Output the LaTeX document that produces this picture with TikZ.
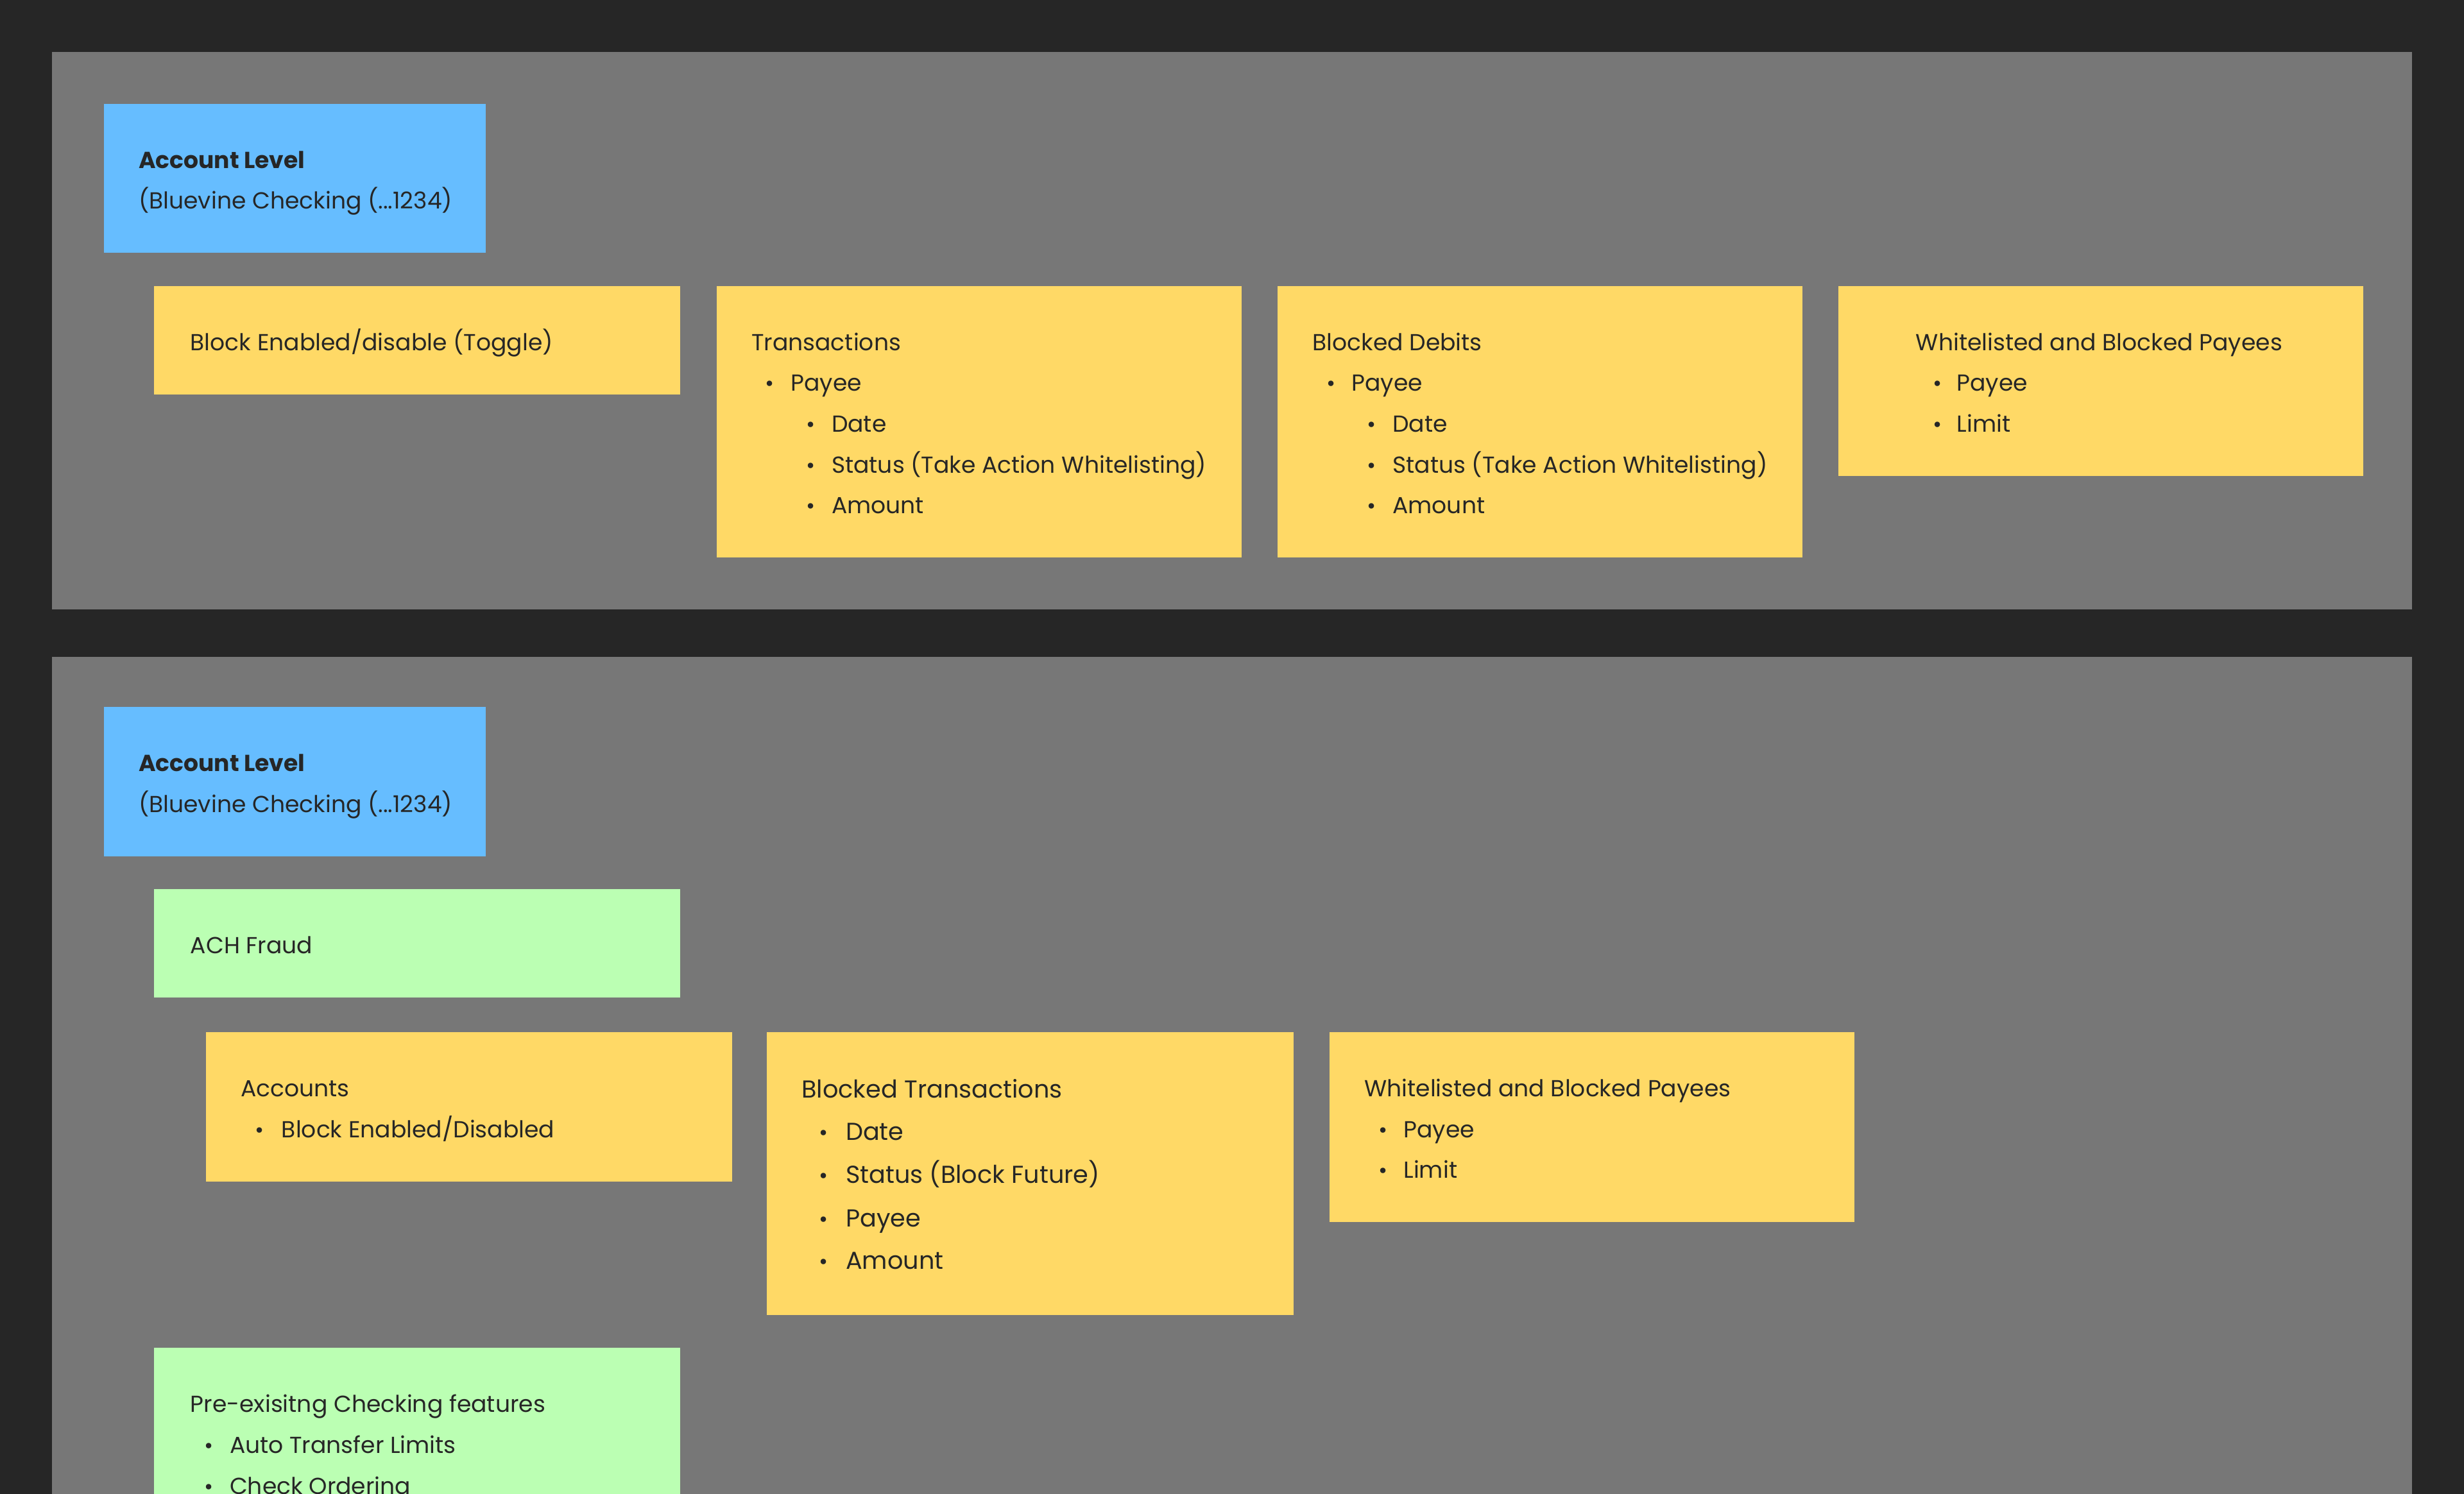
\documentclass[tikz,border=0pt]{standalone}
\usepackage{fontspec}
\setmainfont{Poppins}
\definecolor{bgc}{HTML}{262626}
\definecolor{panelc}{HTML}{777777}
\definecolor{bluec}{HTML}{66BDFF}
\definecolor{yelc}{HTML}{FFD966}
\definecolor{grnc}{HTML}{BBFFB3}
\tikzset{
 tx/.style={anchor=base west,inner sep=0pt,font=\fontsize{14.75}{18}\selectfont,text=black!85},
 txb/.style={tx,font=\fontsize{14.75}{18}\selectfont\bfseries},
 txl/.style={tx,font=\fontsize{15.6}{20}\selectfont},
 bul/.style={anchor=base,inner sep=0pt,font=\fontsize{14}{16}\selectfont,text=black!85},
}
\begin{document}
\begin{tikzpicture}[x=1pt,y=-1pt]
\useasboundingbox (0,0) rectangle (1568,951);
\clip (0,0) rectangle (1568,951);
\fill[bgc] (0,0) rectangle (1568,951);
\fill[panelc] (33,33) rectangle (1535,388);
\fill[panelc] (33,418) rectangle (1535,960);
% boxes
\fill[bluec] (66,66) rectangle (309,161);
\fill[bluec] (66,450) rectangle (309,545);
\fill[yelc] (98,182) rectangle (433,251);
\fill[yelc] (456,182) rectangle (790,355);
\fill[yelc] (813,182) rectangle (1147,355);
\fill[yelc] (1170,182) rectangle (1504,303);
\fill[grnc] (98,566) rectangle (433,635);
\fill[grnc] (98,858) rectangle (433,960);
\fill[yelc] (131,657) rectangle (466,752);
\fill[yelc] (488,657) rectangle (823,837);
\fill[yelc] (846,657) rectangle (1180,778);
% texts panel 1
\node[txb] (a1) at (88,107) {Account Level};
\node[tx] (a2) at (88,133) {(Bluevine Checking (...1234)};
\node[tx] (b1) at (121,223) {Block Enabled/disable (Toggle)};
\node[tx] (t1) at (478,223) {Transactions};
\node[bul] (t2b) at (490,249) {•}; \node[tx] (t2) at (503,249) {Payee};
\node[bul] (t3b) at (516,275) {•}; \node[tx] (t3) at (529,275) {Date};
\node[bul] (t4b) at (516,301) {•}; \node[tx] (t4) at (529,301) {Status (Take Action Whitelisting)};
\node[bul] (t5b) at (516,327) {•}; \node[tx] (t5) at (529,327) {Amount};
\node[tx] (d1) at (835,223) {Blocked Debits};
\node[bul] (d2b) at (847,249) {•}; \node[tx] (d2) at (860,249) {Payee};
\node[bul] (d3b) at (873,275) {•}; \node[tx] (d3) at (886,275) {Date};
\node[bul] (d4b) at (873,301) {•}; \node[tx] (d4) at (886,301) {Status (Take Action Whitelisting)};
\node[bul] (d5b) at (873,327) {•}; \node[tx] (d5) at (886,327) {Amount};
\node[tx] (w1) at (1219,223) {Whitelisted and Blocked Payees};
\node[bul] (w2b) at (1233,249) {•}; \node[tx] (w2) at (1245,249) {Payee};
\node[bul] (w3b) at (1233,275) {•}; \node[tx] (w3) at (1245,275) {Limit};
% panel 2
\node[txb] (c1) at (88,491) {Account Level};
\node[tx] (c2) at (88,517) {(Bluevine Checking (...1234)};
\node[tx] (f1) at (121,607) {ACH Fraud};
\node[tx] (g1) at (153,698) {Accounts};
\node[bul] (g2b) at (165,724) {•}; \node[tx] (g2) at (179,724) {Block Enabled/Disabled};
\node[txl] (h1) at (510,699) {Blocked Transactions};
\node[bul] (h2b) at (524,726) {•}; \node[txl] (h2) at (538,726) {Date};
\node[bul] (h3b) at (524,753) {•}; \node[txl] (h3) at (538,753) {Status (Block Future)};
\node[bul] (h4b) at (524,781) {•}; \node[txl] (h4) at (538,781) {Payee};
\node[bul] (h5b) at (524,808) {•}; \node[txl] (h5) at (538,808) {Amount};
\node[tx] (k1) at (868,698) {Whitelisted and Blocked Payees};
\node[bul] (k2b) at (880,724) {•}; \node[tx] (k2) at (893,724) {Payee};
\node[bul] (k3b) at (880,750) {•}; \node[tx] (k3) at (893,750) {Limit};
\node[tx] (p1) at (121,899) {Pre-exisitng Checking features};
\node[bul] (p2b) at (133,925) {•}; \node[tx] (p2) at (146,925) {Auto Transfer Limits};
\node[bul] (p3b) at (133,951) {•}; \node[tx] (p3) at (146,951) {Check Ordering};
\end{tikzpicture}
\end{document}
